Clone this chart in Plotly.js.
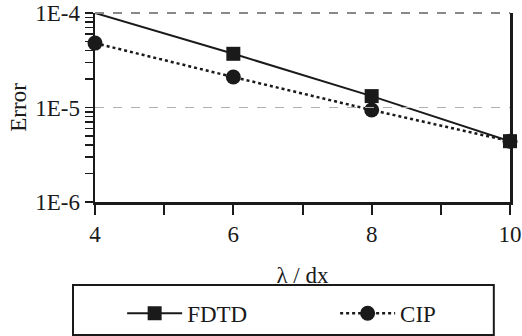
<!DOCTYPE html>
<html>
<head>
<meta charset="utf-8">
<script src="https://cdn.plot.ly/plotly-3.0.1.min.js"></script>
<style>html,body{margin:0;padding:0;background:#fff;}#chart{width:522px;height:336px;}</style>
</head>
<body>
<div id="chart"></div>
<script>
const lambdaDx = [4, 6, 8, 10];
const fdtdError = [1.0e-4, 3.7e-5, 1.32e-5, 4.4e-6];
const cipError = [4.8e-5, 2.1e-5, 9.4e-6, 4.4e-6];
const seriesNames = ['FDTD', 'CIP'];
const yTickVals = [1e-6, 2e-6, 3e-6, 4e-6, 5e-6, 6e-6, 7e-6, 8e-6, 9e-6,
                   1e-5, 2e-5, 3e-5, 4e-5, 5e-5, 6e-5, 7e-5, 8e-5, 9e-5, 1e-4];
const yTickText = ['1E-6', '', '', '', '', '', '', '', '',
                   '1E-5', '', '', '', '', '', '', '', '', '1E-4'];
const xTickVals = [4, 5, 6, 7, 8, 9, 10];
const xTickText = ['4', '', '6', '', '8', '', '10'];
const axisTitles = {x: 'λ / dx', y: 'Error'};

const font = 'Liberation Serif, Times New Roman, serif';
const ink = '#1a1a1a';

const traces = [
  {
    x: lambdaDx, y: cipError, name: seriesNames[1], type: 'scatter', mode: 'lines+markers',
    line: {color: ink, width: 2.5, dash: 'dot'},
    marker: {symbol: 'circle', size: 15, color: ink},
    cliponaxis: false, legend: 'legend2'
  },
  {
    x: lambdaDx, y: fdtdError, name: seriesNames[0], type: 'scatter', mode: 'lines+markers',
    line: {color: ink, width: 2, dash: 'solid'},
    marker: {symbol: 'square', size: 14, color: ink},
    cliponaxis: false, legend: 'legend'
  }
];

const legendBase = {
  orientation: 'v', xref: 'container', xanchor: 'left', y: -0.475, yanchor: 'top',
  itemwidth: 55,
  font: {family: font, size: 23, color: ink},
  bgcolor: 'rgba(0,0,0,0)', borderwidth: 0
};

const layout = {
  width: 522, height: 336,
  margin: {l: 95, r: 12, t: 13, b: 134, autoexpand: false},
  paper_bgcolor: '#fff', plot_bgcolor: '#fff',
  font: {family: font, size: 23, color: ink},
  showlegend: true,
  xaxis: {
    type: 'linear', range: [4, 10], automargin: false,
    tickmode: 'array', tickvals: xTickVals, ticktext: xTickText,
    ticks: 'outside', ticklen: 10, tickwidth: 2, tickcolor: ink,
    showline: true, linecolor: ink, linewidth: 2.5,
    showgrid: false, zeroline: false,
    tickfont: {family: font, size: 23},
    title: {text: axisTitles.x, font: {family: font, size: 23}}
  },
  yaxis: {
    type: 'log', range: [-6, -4], automargin: false,
    tickmode: 'array', tickvals: yTickVals, ticktext: yTickText,
    ticks: 'outside', ticklen: 8, tickwidth: 1.5, tickcolor: ink,
    showline: true, linecolor: ink, linewidth: 2.5, mirror: true,
    showgrid: false, zeroline: false,
    tickfont: {family: font, size: 23}
  },
  legend: Object.assign({}, legendBase, {x: 0.234}),
  legend2: Object.assign({}, legendBase, {x: 0.642}),
  annotations: [
    {text: axisTitles.y, xref: 'paper', yref: 'paper', x: -0.185, y: 0.5,
     xanchor: 'center', yanchor: 'middle', textangle: -90, showarrow: false,
     font: {family: font, size: 23, color: ink}}
  ],
  shapes: [
    {type: 'line', xref: 'paper', yref: 'paper', x0: 0, x1: 1, y0: 1, y1: 1,
     line: {color: '#888', width: 2, dash: 'dash'}},
    {type: 'line', xref: 'paper', yref: 'y', x0: 0, x1: 1, y0: 1e-5, y1: 1e-5,
     line: {color: '#b0b0b0', width: 1.2, dash: 'dash'}},
    {type: 'rect', xref: 'paper', yref: 'paper', x0: -0.053, x1: 0.961, y0: -0.439, y1: -0.704,
     line: {color: ink, width: 2}, fillcolor: 'rgba(0,0,0,0)'}
  ]
};

Plotly.newPlot('chart', traces, layout, {displayModeBar: false, staticPlot: true});
</script>
</body>
</html>
